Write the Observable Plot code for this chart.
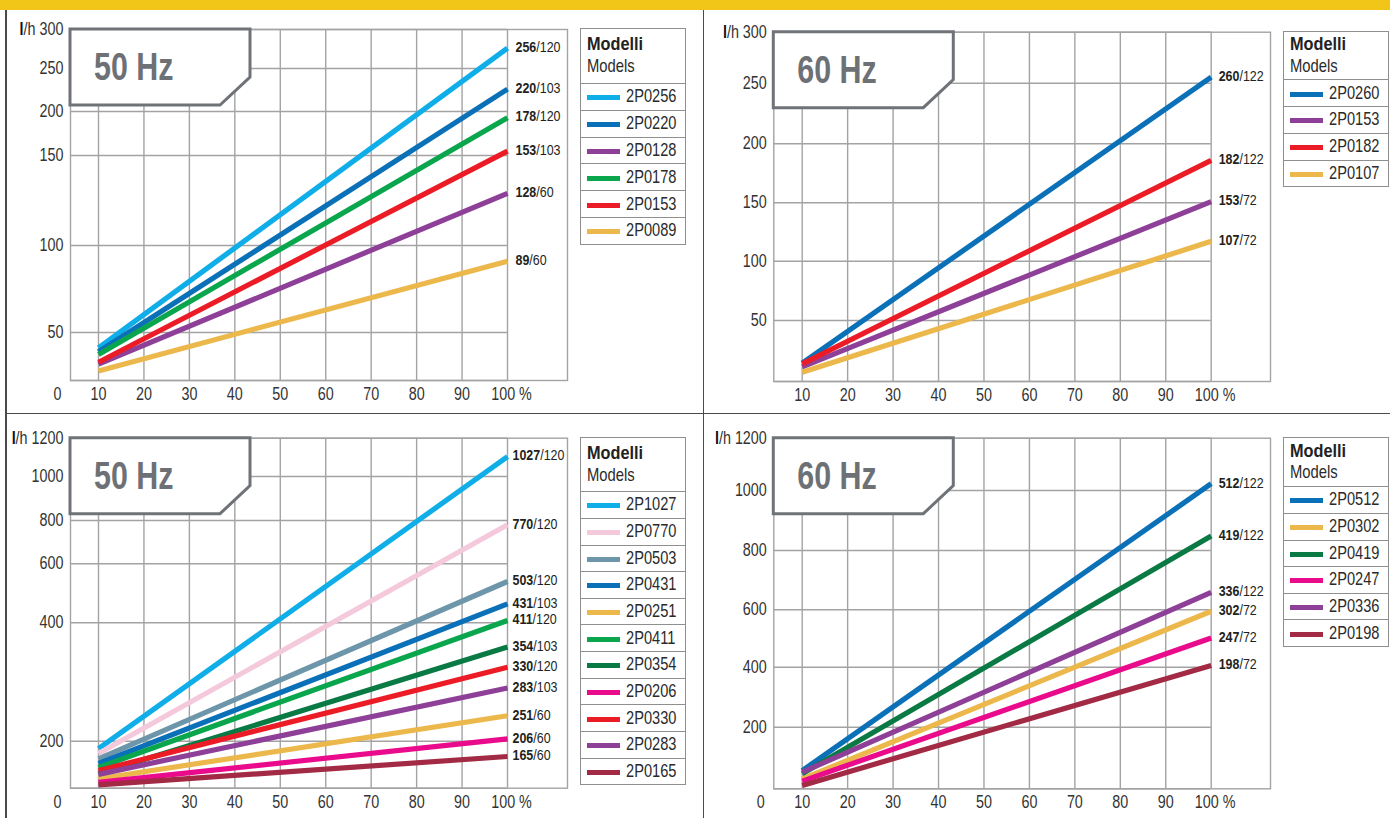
<!DOCTYPE html>
<html>
<head>
<meta charset="utf-8">
<script src="https://cdn.jsdelivr.net/npm/d3@7"></script>
<script src="https://cdn.jsdelivr.net/npm/@observablehq/plot@0.6"></script>
<style>
  html, body { margin: 0; padding: 0; background: #fff; }
  #page { position: relative; width: 1390px; height: 818px; overflow: hidden;
          font-family: "Liberation Sans", Arial, sans-serif; color: #2a2a2a; }
  .topbar { position: absolute; left: 0; top: 0; width: 1390px; height: 9.5px; background: #f2c519; }
  .sep { position: absolute; background: #4a4a4a; }
  .panel { position: absolute; }
  .panel svg { display: block; }
  .legend { position: absolute; border: 1.5px solid #8f8f8f; background: #fff; }
  .legend .head { position: relative; }
  .legend .t1 { position: absolute; left: 5.5px; font-weight: bold; font-size: 18.5px; line-height: 18.5px; color: #222;
                transform: scaleX(0.88); transform-origin: 0 0; white-space: nowrap; }
  .legend .t2 { position: absolute; left: 5.5px; font-size: 18.5px; line-height: 18.5px; color: #2a2a2a;
                transform: scaleX(0.8); transform-origin: 0 0; white-space: nowrap; }
  .legend .row { box-sizing: border-box; border-top: 1.5px solid #8f8f8f; position: relative; }
  .legend .sw { position: absolute; left: 5.5px; width: 33px; height: 5px; }
  .legend .lb { position: absolute; left: 45px; font-size: 18.5px; line-height: 18.5px; color: #2a2a2a;
                transform: scaleX(0.79); transform-origin: 0 0; white-space: nowrap; }
</style>
</head>
<body>
<div id="page">
  <div class="topbar"></div>
</div>
<script>
// ---------- shared ----------
const percentTicks = [10, 20, 30, 40, 50, 60, 70, 80, 90, 100];
const percentEnds = [10, 100];

// ---------- Panel A : 50 Hz, small models (l/h) ----------
const modelsA = ["2P0256", "2P0220", "2P0128", "2P0178", "2P0153", "2P0089"];
const q10A    = [34, 30, 17, 27, 19, 10];        // flow at 10 % (as drawn)
const q100A   = [276, 226, 129, 193, 155, 91];   // flow at 100 % (as drawn)
const flowA   = [256, 220, 128, 178, 153, 89];   // label: l/h
const barA    = [120, 103, 60, 120, 103, 60];    // label: bar
const yTicksA = [0, 50, 100, 150, 200, 250, 300];

// ---------- Panel B : 60 Hz, small models ----------
const modelsB = ["2P0260", "2P0153", "2P0182", "2P0107"];
const q10B    = [15, 12, 14.5, 7.5];
const q100B   = [256, 151, 186, 117];
const flowB   = [260, 153, 182, 107];
const barB    = [122, 72, 122, 72];
const yTicksB = [0, 50, 100, 150, 200, 250, 300];

// ---------- Panel C : 50 Hz, large models ----------
const modelsC = ["2P1027", "2P0770", "2P0503", "2P0431", "2P0251", "2P0411", "2P0354", "2P0206", "2P0330", "2P0283", "2P0165"];
const q10C    = [168, 148, 125, 105, 40, 88, 62, 25, 75, 59, 14];
const q100C   = [1104, 780, 540, 464, 243, 408, 359, 204, 325, 290, 135];
const flowC   = [1027, 770, 503, 431, 251, 411, 354, 206, 330, 283, 165];
const barC    = [120, 120, 120, 103, 60, 120, 103, 60, 120, 103, 60];
const yTicksC = [0, 200, 400, 600, 800, 1000, 1200];

// ---------- Panel D : 60 Hz, large models ----------
const modelsD = ["2P0512", "2P0302", "2P0419", "2P0247", "2P0336", "2P0198"];
const q10D    = [59, 32, 49, 25, 54, 11];
const q100D   = [1026, 595, 848, 502, 659, 406];
const flowD   = [512, 302, 419, 247, 336, 198];
const barD    = [122, 72, 122, 72, 122, 72];
const yTicksD = [0, 200, 400, 600, 800, 1000, 1200];

// ---------- styles ----------
const C = {
  lblue: "#10aee8", blue: "#0a70b8", green: "#0aa64e", red: "#ec1c27", purple: "#8e3f97",
  yellow: "#ecb84c", pink: "#f5c9dc", slate: "#6e96aa", dgreen: "#0a7a44", magenta: "#ea0a8c", maroon: "#a22a45"
};
const colorsA = [C.lblue, C.blue, C.purple, C.green, C.red, C.yellow];
const colorsB = [C.blue, C.purple, C.red, C.yellow];
const colorsC = [C.lblue, C.pink, C.slate, C.blue, C.yellow, C.green, C.dgreen, C.magenta, C.red, C.purple, C.maroon];
const colorsD = [C.blue, C.yellow, C.dgreen, C.magenta, C.purple, C.maroon];

const GRID = "#a3a3a3";
const FONT = '"Liberation Sans", Arial, sans-serif';
const TXT = "#333";
const TICK = 17.5;

// layout (page coordinates of each panel and its frame)
const panels = [
  {title: "50 Hz", models: modelsA, q10: q10A, q100: q100A, flow: flowA, bar: barA, yTicks: yTicksA, colors: colorsA,
   left: 0, top: 0, w: 703, h: 413, ml: 70, mr: 136, mt: 29, mb: 33, xDomain: [3.84, 113.2],
   yRange: [380, 332, 245, 155, 111, 68, 29], zero: true, labelDx: 8,
   legend: {left: 580, top: 28.3, head: 55, row: 26.9, t1: 23.4, t2: 45.2}},
  {title: "60 Hz", models: modelsB, q10: q10B, q100: q100B, flow: flowB, bar: barB, yTicks: yTicksB, colors: colorsB,
   left: 703, top: 0, w: 687, h: 413, ml: 70.3, mr: 120, mt: 31.7, mb: 32, xDomain: [3.75, 113.05],
   yRange: [381, 320, 260.7, 202.3, 143.3, 82.7, 31.7], zero: false, labelDx: 7.5,
   legend: {left: 1283, top: 30.7, head: 49.3, row: 26.7, t1: 20.6, t2: 42.2}},
  {title: "50 Hz", models: modelsC, q10: q10C, q100: q100C, flow: flowC, bar: barC, yTicks: yTicksC, colors: colorsC,
   left: 0, top: 413, w: 703, h: 405, ml: 70, mr: 136, mt: 24.7, mb: 30.3, xDomain: [3.84, 113.2],
   yRange: [374.7, 327.7, 209.3, 150.3, 107, 63, 24.7], zero: true, labelDx: 5,
   legend: {left: 580, top: 436.7, head: 55, row: 26.67, t1: 23.4, t2: 45.2}},
  {title: "60 Hz", models: modelsD, q10: q10D, q100: q100D, flow: flowD, bar: barD, yTicks: yTicksD, colors: colorsD,
   left: 703, top: 413, w: 687, h: 405, ml: 70.3, mr: 120, mt: 24.7, mb: 29.7, xDomain: [3.75, 113.05],
   yRange: [375.3, 313.7, 253.7, 196.3, 137, 77, 24.7], zero: true, labelDx: 7.5,
   legend: {left: 1283, top: 437.3, head: 49.4, row: 26.67, t1: 20.6, t2: 42.2}}
];

const page = document.getElementById("page");
const SVGNS = "http://www.w3.org/2000/svg";

// narrow the (Helvetica-like) font horizontally to mimic the condensed face
function condense(t, sx) {
  let tx = 0, ty = 0;
  const xa = t.getAttribute("x"), ya = t.getAttribute("y");
  if (xa && !/em$/.test(xa)) { tx = +xa || 0; t.removeAttribute("x"); }
  if (ya && !/em$/.test(ya)) { ty = +ya || 0; t.removeAttribute("y"); }
  const tr = t.getAttribute("transform") || "";
  t.setAttribute("transform", `${tr} translate(${tx},${ty}) scale(${sx},1)`);
}

function makePanel(p) {
  const lines = p.models.flatMap((m, i) => [
    {model: m, pct: percentEnds[0], q: p.q10[i]},
    {model: m, pct: percentEnds[1], q: p.q100[i]}
  ]);
  const ends = p.models.map((m, i) => ({model: m, q: p.q100[i], label: `${p.flow[i]}/${p.bar[i]}`}));
  const yTop = p.yTicks[p.yTicks.length - 1];
  const labelTicks = p.yTicks.filter(t => t !== 0);
  const x0 = p.xDomain[0];

  const svg = Plot.plot({
    width: p.w, height: p.h,
    marginLeft: p.ml, marginRight: p.mr, marginTop: p.mt, marginBottom: p.mb,
    style: {fontFamily: FONT, background: "transparent", overflow: "visible"},
    x: {domain: p.xDomain, axis: null},
    y: {type: "linear", domain: p.yTicks, range: p.yRange, axis: null},
    color: {domain: p.models, range: p.colors},
    marks: [
      Plot.ruleY(p.yTicks, {y: d => d, x1: () => x0, x2: () => 100, stroke: GRID, strokeWidth: 1.4}),
      Plot.ruleX(percentTicks, {x: d => d, stroke: GRID, strokeWidth: 1.4}),
      Plot.frame({stroke: GRID, strokeWidth: 1.4}),
      Plot.line(lines, {x: "pct", y: "q", z: "model", stroke: "model", strokeWidth: 5.2, strokeLinecap: "butt"}),
      Plot.text(ends, {x: () => 100, y: "q", text: "label", textAnchor: "start", dx: p.labelDx, dy: -1,
                       fontSize: 15, fill: "#231f20"}),
      Plot.text(percentTicks.slice(0, -1), {x: d => d, y: () => 0, text: d => String(d), dy: 14, fontSize: TICK, fill: TXT}),
      Plot.text(percentTicks.slice(-1), {x: d => d, y: () => 0, text: d => `${d} %`, dy: 14, dx: 4, fontSize: TICK, fill: TXT}),
      Plot.text(labelTicks, {x: () => x0, y: d => d, text: d => d === yTop ? `l/h ${d}` : String(d),
                             textAnchor: "end", dx: -7, fontSize: TICK, fill: TXT}),
      ...(p.zero ? [Plot.text([0], {x: () => x0, y: d => d, text: d => String(d), textAnchor: "end", dx: -9, dy: 14, fontSize: TICK, fill: TXT})] : [])
    ]
  });

  // bold parts of text: flow value in "256/120", "l" in "l/h"; condense all texts
  svg.querySelectorAll("text").forEach(t => {
    const s = t.textContent;
    let m = /^(\d+)(\/\d+)$/.exec(s);
    if (m) {
      t.textContent = "";
      const a = document.createElementNS(SVGNS, "tspan");
      a.setAttribute("font-weight", "bold"); a.textContent = m[1];
      const b = document.createElementNS(SVGNS, "tspan");
      b.textContent = m[2];
      t.append(a, b);
      condense(t, 0.83);
      return;
    }
    m = /^l(\/h )(\d+)$/.exec(s);
    if (m) {
      t.textContent = "";
      const a = document.createElementNS(SVGNS, "tspan");
      a.setAttribute("font-weight", "bold"); a.setAttribute("fill", "#111"); a.textContent = "l";
      const b = document.createElementNS(SVGNS, "tspan");
      b.textContent = m[1] + m[2];
      t.append(a, b);
    }
    condense(t, 0.82);
  });

  // title box with cut corner
  const g = d3.select(svg).append("g");
  const bx = p.ml, by = p.mt, bw = 180, bh = 76, cy = 48, cx = 30;
  g.append("path")
    .attr("d", `M${bx},${by}H${bx + bw}V${by + cy}L${bx + bw - cx},${by + bh}H${bx}Z`)
    .attr("fill", "#fff").attr("stroke", "#6f7378").attr("stroke-width", 3);
  g.append("text")
    .attr("transform", `translate(${bx + 24},${by + 51}) scale(0.77,1)`)
    .attr("text-anchor", "start")
    .attr("font-family", FONT).attr("font-weight", "bold").attr("font-size", 39.5)
    .attr("fill", "#6d7176").text(p.title);

  const div = document.createElement("div");
  div.className = "panel";
  div.style.left = p.left + "px";
  div.style.top = p.top + "px";
  div.appendChild(svg);
  page.appendChild(div);

  // legend
  const L = p.legend;
  const box = document.createElement("div");
  box.className = "legend";
  box.style.left = L.left + "px";
  box.style.top = L.top + "px";
  box.style.width = "104px";
  const head = document.createElement("div");
  head.className = "head";
  head.style.height = (L.head - 1.5) + "px";
  const t1 = document.createElement("span"); t1.className = "t1"; t1.textContent = "Modelli";
  t1.style.top = (L.t1 - 1.5 - 15.7) + "px";
  const t2 = document.createElement("span"); t2.className = "t2"; t2.textContent = "Models";
  t2.style.top = (L.t2 - 1.5 - 15.7) + "px";
  head.append(t1, t2);
  box.appendChild(head);
  p.models.forEach((m, i) => {
    const r = document.createElement("div");
    r.className = "row";
    r.style.height = L.row + "px";
    const sw = document.createElement("div");
    sw.className = "sw";
    sw.style.background = p.colors[i];
    sw.style.top = ((L.row - 1.5) / 2 - 1.5) + "px";
    const lb = document.createElement("span");
    lb.className = "lb";
    lb.textContent = m;
    lb.style.top = ((L.row - 1.5) / 2 - 9.5) + "px";
    r.append(sw, lb);
    box.appendChild(r);
  });
  page.appendChild(box);
}

panels.forEach(makePanel);

// panel separators
function sep(l, t, w, h) {
  const d = document.createElement("div");
  d.className = "sep";
  Object.assign(d.style, {left: l + "px", top: t + "px", width: w + "px", height: h + "px"});
  page.appendChild(d);
}
sep(5, 9.5, 1.5, 809);
sep(702.5, 9.5, 1.5, 809);
sep(5, 412.5, 1385, 1.5);
</script>
</body>
</html>
